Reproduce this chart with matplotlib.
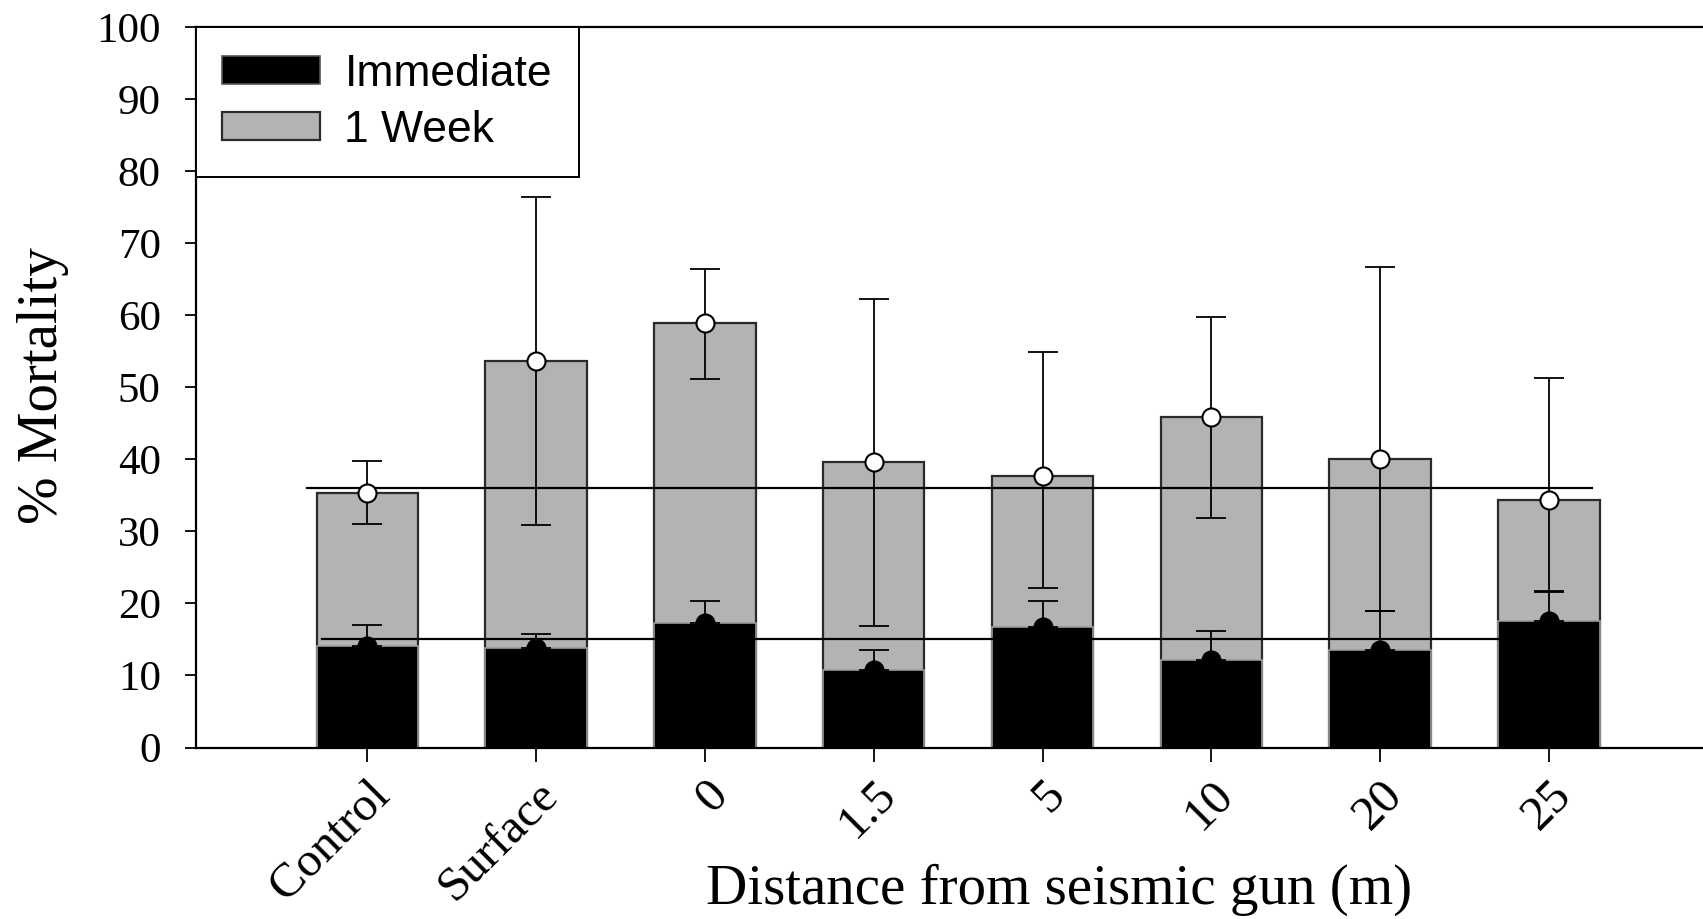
import matplotlib
matplotlib.use("Agg")
import matplotlib.pyplot as plt
from matplotlib.patches import Patch
import numpy as np

categories = ['Control', 'Surface', '0', '1.5', '5', '10', '20', '25']
week_mean = [35.4, 53.7, 58.9, 39.6, 37.7, 45.9, 40.1, 34.4]
week_upper = [39.8, 76.4, 66.5, 62.3, 54.9, 59.8, 66.7, 51.3]
week_lower = [31.0, 30.9, 51.2, 16.9, 22.1, 31.9, 19.0, 21.6]
imm_mean = [14.1, 13.8, 17.3, 10.7, 16.7, 12.2, 13.6, 17.5]
imm_upper = [17.0, 15.8, 20.4, 13.6, 20.4, 16.2, 18.9, 21.7]
ref_levels = [36, 15]
yticks = [0, 10, 20, 30, 40, 50, 60, 70, 80, 90, 100]

serif = 'Liberation Serif'
sans = 'Liberation Sans'

fig = plt.figure(figsize=(17.03, 9.19), dpi=100)
ax = fig.add_axes([195.5 / 1703, 1 - 747.5 / 919, 1 - 195.5 / 1703, (747.5 - 27.2) / 919])

x = np.arange(len(categories))
wm = np.array(week_mean)
im = np.array(imm_mean)
gray = '#b3b3b3'

ax.bar(x, wm, width=0.6, color=gray, edgecolor='#2a2a2a', linewidth=1.6, zorder=1)
ax.bar(x, im, width=0.6, color='black', edgecolor='#9a9a9a', linewidth=1.2, zorder=2)

# reference lines
ax.plot([-0.357, 7.255], [ref_levels[0]] * 2, color='black', lw=1.6, zorder=3)
ax.plot([-0.268, 7.255], [ref_levels[1]] * 2, color='black', lw=1.6, zorder=3)

yerr_w = [wm - np.array(week_lower), np.array(week_upper) - wm]
ax.errorbar(x, wm, yerr=yerr_w, fmt='none', ecolor='black', elinewidth=1.3,
            capsize=11, capthick=1.3, zorder=4)
yerr_i = [np.zeros_like(im), np.array(imm_upper) - im]
ax.errorbar(x, im, yerr=yerr_i, fmt='none', ecolor='black', elinewidth=1.3,
            capsize=11, capthick=1.3, zorder=4)
ax.plot(x, wm, 'o', ms=13, mfc='white', mec='black', mew=1.5, ls='none', zorder=5)
ax.plot(x, im, 'o', ms=13, mfc='black', mec='black', mew=1.5, ls='none', zorder=5)

ax.set_xlim(-1.018, 7.913)
ax.set_ylim(0, 100)
ax.set_yticks(yticks)
ax.set_yticklabels([str(v) for v in yticks], family=serif, fontsize=31)
ax.set_xticks(x)
ax.set_xticklabels(categories, family=serif, fontsize=35, rotation=45,
                   ha='right', va='top', rotation_mode='anchor')
ax.tick_params(axis='y', direction='out', length=8, width=1.3, pad=17)
ax.tick_params(axis='x', direction='out', length=10, width=1.3, pad=8)
ax.spines['right'].set_visible(False)
for s in ['left', 'bottom', 'top']:
    ax.spines[s].set_linewidth(1.6)

fig.text(1059 / 1703, 1 - 890 / 919, 'Distance from seismic gun (m)', family=serif,
         fontsize=41, ha='center', va='center')
fig.text(43 / 1703, 1 - 386 / 919, '% Mortality', family=serif, fontsize=41,
         ha='center', va='center', rotation=90)

handles = [Patch(facecolor='black', edgecolor='#555555', linewidth=1.2),
           Patch(facecolor=gray, edgecolor='#2a2a2a', linewidth=1.6)]
leg = ax.legend(handles, ['Immediate', '1 Week'], loc='upper left',
                bbox_to_anchor=(0, 1), borderaxespad=0, prop={'family': sans, 'size': 32},
                fancybox=False, framealpha=1, edgecolor='black', handlelength=2.2,
                handleheight=0.57, handletextpad=0.55, borderpad=0.6, labelspacing=0.33)
leg.get_frame().set_linewidth(1.4)
leg.set_zorder(10)

fig.savefig('out.png', dpi=100)
